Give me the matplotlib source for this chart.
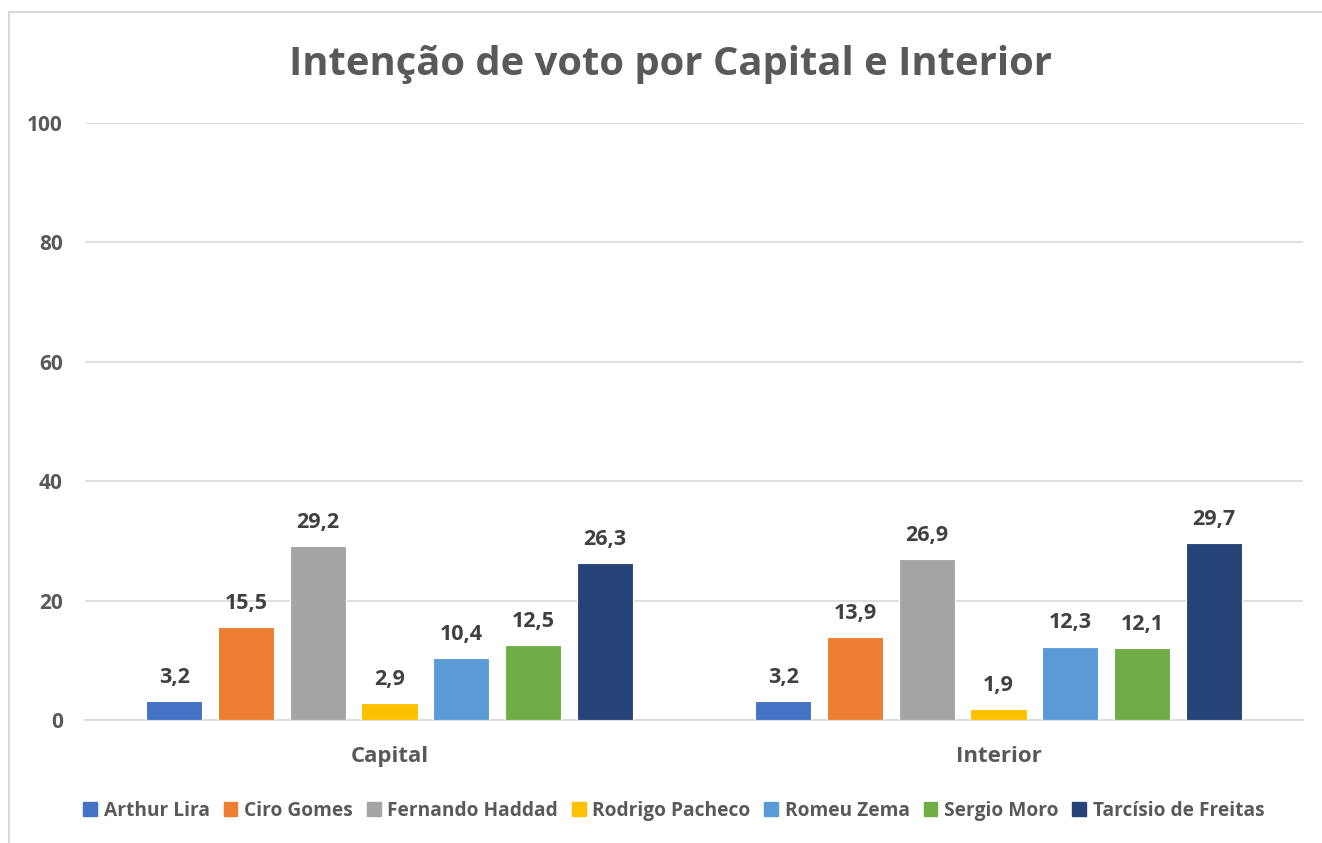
import matplotlib
matplotlib.use("Agg")
import matplotlib.pyplot as plt
from matplotlib.lines import Line2D
import numpy as np

plt.rcParams['font.family'] = ['Open Sans', 'DejaVu Sans']

categories = ["Capital", "Interior"]
candidates = ["Arthur Lira", "Ciro Gomes", "Fernando Haddad", "Rodrigo Pacheco",
              "Romeu Zema", "Sergio Moro", "Tarcísio de Freitas"]
values = {
    "Arthur Lira": [3.2, 3.2],
    "Ciro Gomes": [15.5, 13.9],
    "Fernando Haddad": [29.2, 26.9],
    "Rodrigo Pacheco": [2.9, 1.9],
    "Romeu Zema": [10.4, 12.3],
    "Sergio Moro": [12.5, 12.1],
    "Tarcísio de Freitas": [26.3, 29.7],
}
colors = ["#4472C4", "#ED7D31", "#A5A5A5", "#FFC000", "#5B9BD5", "#70AD47", "#264478"]
yticks = [0, 20, 40, 60, 80, 100]
title = "Intenção de voto por Capital e Interior"

W, H = 1322, 843
fig = plt.figure(figsize=(W / 100, H / 100), dpi=100)
ax = fig.add_axes([85 / W, (H - 720) / H, (1303 - 85) / W, (720 - 123) / H])

x = np.arange(len(categories))
pitch = 0.1177
width = 0.092
for i, (name, col) in enumerate(zip(candidates, colors)):
    pos = x + (i - 3) * pitch
    bars = ax.bar(pos, values[name], width=width, color=col, edgecolor="white",
                  linewidth=0.8, label=name, zorder=3)
    for b, v in zip(bars, values[name]):
        ax.annotate(f"{v:.1f}".replace(".", ","), (b.get_x() + b.get_width() / 2, v),
                    xytext=(0, 17), textcoords="offset points", ha="center", va="center",
                    fontsize=15.5, fontweight="bold", color="#404040")

ax.set_xlim(-0.5, 1.5)
ax.set_ylim(0, 100)
ax.set_yticks(yticks)
ax.set_yticklabels([str(t) for t in yticks])
ax.set_xticks(x)
ax.set_xticklabels(categories)
ax.grid(axis="y", color="#D9D9D9", linewidth=1.2, zorder=0)
ax.set_axisbelow(True)
for s in ["top", "right", "left"]:
    ax.spines[s].set_visible(False)
ax.spines["bottom"].set_color("#D9D9D9")
ax.spines["bottom"].set_linewidth(1.2)
ax.tick_params(axis="both", length=0, labelcolor="#595959")
ax.tick_params(axis="y", pad=16, labelsize=15)
ax.tick_params(axis="x", pad=19, labelsize=16)
for lbl in ax.get_xticklabels() + ax.get_yticklabels():
    lbl.set_fontweight("bold")

fig.text(0.5075, (H - 64) / H, title, ha="center", va="center", fontsize=28.8,
         fontweight="bold", color="#595959")

handles = [plt.Rectangle((0, 0), 1, 1, color=c) for c in colors]
leg = fig.legend(handles, candidates, loc="center", bbox_to_anchor=(674 / W, (H - 811) / H),
                 ncol=7, frameon=False, handlelength=0.72, handleheight=0.72,
                 handletextpad=0.35, columnspacing=0.72,
                 prop={"weight": "bold", "size": 13.8})
for t in leg.get_texts():
    t.set_color("#595959")

# chart border (light gray)
fig.add_artist(Line2D([9 / W, 1.0], [(H - 12) / H, (H - 12) / H], color="#D9D9D9", linewidth=1.5))
fig.add_artist(Line2D([9 / W, 9 / W], [0, (H - 12) / H], color="#D9D9D9", linewidth=1.5))

fig.savefig("out.png", dpi=100)
